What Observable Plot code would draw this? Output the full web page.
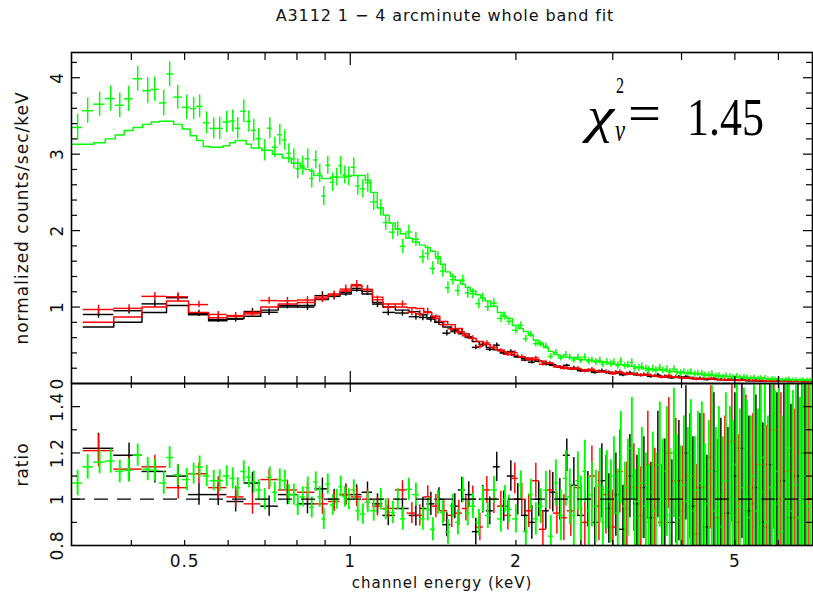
<!DOCTYPE html>
<html>
<head>
<meta charset="utf-8">
<script src="https://cdn.jsdelivr.net/npm/d3@7"></script>
<script src="https://cdn.jsdelivr.net/npm/@observablehq/plot@0.6"></script>
<style>
  html, body { margin: 0; padding: 0; background: #fff; overflow: hidden; }
  #wrap { position: relative; width: 813px; height: 595px; overflow: hidden; font-family: "DejaVu Sans", sans-serif; }
  #wrap > svg { position: absolute; left: 0; top: 0; }
  #wrap > svg.plotsvg text { letter-spacing: 1px; }
  #title { position: absolute; left: 445px; top: 6px; transform: translateX(-50%); white-space: nowrap;
           font-family: "DejaVu Sans", sans-serif; font-size: 16px; letter-spacing: 0.9px; color: #111; }
</style>
</head>
<body>
<div id="wrap"><div id="title">A3112 1 − 4 arcminute whole band fit</div></div>
<script>
// ---------------- data (keV bins, model counts/s/keV, ratio, ratio error) ----------------
// green (pn)
const gE = [0.3195,0.3332,0.3503,0.3669,0.3811,0.3956,0.4108,0.4284,0.4411,0.4581,0.4696,0.4857,0.5043,0.5192,0.5324,0.5483,0.5647,0.5790,0.5963,0.6115,0.6244,0.6404,0.6540,0.6677,0.6818,0.6992,0.7141,0.7292,0.7446,0.7603,0.7732,0.7896,0.8027,0.8197,0.8370,0.8511,0.8655,0.8800,0.8950,0.9102,0.9293,0.9451,0.9610,0.9772,0.9938,1.0148,1.032,
  1.054,1.076,1.103,1.136,1.160,1.195,1.220,1.246,1.278,1.316,1.355,1.383,1.413,1.443,1.473,1.505,1.536,1.569,1.602,1.635,1.670,1.713,1.741,1.778,1.824,1.878,1.910,1.942,2.000,2.042,2.085,2.129,2.174,2.220,2.267,2.315,2.364,2.414,2.465,
  2.506,2.549,2.592,2.625,2.669,2.714,2.749,2.795,2.842,2.878,2.927,2.976,3.014,3.064,3.103,3.156,3.195,3.249,3.291,3.346,3.388,3.446,3.489,3.548,3.593,3.653,3.700,3.762,3.809,3.874,3.923,3.989,4.040,4.108,4.160,4.230,4.283,4.355,4.410,4.485,4.542,4.618,4.677,4.756,4.816,4.898,4.960,5.043,5.107,5.194,5.260,5.348,5.416,5.508,5.577,5.671,5.743,5.840,5.914,6.014,6.090,6.193,6.271,6.376,6.457,6.567,6.648,6.761,6.847];
const gM = [3.13,3.13,3.15,3.20,3.25,3.31,3.35,3.39,3.42,3.43,3.43,3.39,3.33,3.24,3.18,3.10,3.09,3.09,3.11,3.15,3.18,3.18,3.13,3.08,3.08,3.05,3.05,3.00,3.00,2.95,2.95,2.88,2.88,2.82,2.80,2.78,2.72,2.72,2.68,2.68,2.70,2.70,2.70,2.70,2.71,2.72,2.72,
  2.72,2.66,2.50,2.30,2.20,2.10,2.02,1.96,1.90,1.85,1.81,1.78,1.73,1.66,1.56,1.46,1.40,1.35,1.30,1.26,1.21,1.16,1.12,1.08,1.01,0.93,0.88,0.85,0.76,0.72,0.68,0.63,0.57,0.53,0.47,0.42,0.38,0.36,0.345,
  0.34,0.33,0.32,0.315,0.31,0.305,0.30,0.29,0.285,0.28,0.27,0.262,0.256,0.25,0.245,0.238,0.232,0.224,0.217,0.21,0.205,0.198,0.193,0.187,0.182,0.177,0.172,0.167,0.162,0.157,0.152,0.147,0.143,0.138,0.134,0.13,0.126,0.122,0.118,0.113,0.109,0.105,0.101,0.097,0.094,0.09,0.087,0.085,0.082,0.079,0.077,0.074,0.071,0.069,0.067,0.064,0.062,0.06,0.058,0.056,0.054,0.052,0.05,0.049,0.048,0.047,0.046,0.045,0.044];
const gR = [1.07,1.14,1.16,1.165,1.12,1.125,1.19,1.13,1.125,1.07,1.18,1.105,1.085,1.11,1.14,1.10,1.08,1.08,1.10,1.09,1.05,1.12,1.095,1.075,1.04,1.00,1.095,1.03,1.085,1.08,1.02,1.02,0.975,1.01,1.05,0.965,1.075,1.01,0.915,1.065,0.975,1.0,1.055,1.01,1.0,1.04,0.95,
  0.936,0.987,0.95,1.0,0.957,0.943,1.0,0.915,1.043,1.02,0.915,0.957,0.87,0.987,0.943,0.858,0.97,0.90,1.04,0.94,0.97,0.90,1.0,0.93,1.04,0.915,1.0,0.957,0.915,1.06,0.86,1.02,0.915,0.97,1.04,0.84,1.07,0.93,1.09,
  1.01,0.93,1.08,0.96,1.12,0.95,1.02,0.97,1.06,0.90,1.04,0.99,1.10,0.94,1.18,0.97,1.05,1.22,0.92,0.99,1.07,0.97,0.90,1.03,0.95,1.15,1.0,1.12,0.93,1.20,0.98,0.92,1.06,0.99,1.10,0.95,1.04,1.07,0.90,0.98,1.12,0.95,1.02,0.88,1.08,1.0,0.93,1.15,0.97,1.05,1.01,0.92,1.10,0.95,1.03,1.18,0.90,1.05,0.98,1.12,0.86,1.0,1.22,0.95,1.06,0.92,1.10,1.0,0.97];
const gRe = [0.055,0.053,0.05,0.052,0.049,0.05,0.048,0.05,0.047,0.049,0.047,0.046,0.048,0.045,0.047,0.046,0.044,0.047,0.045,0.046,0.044,0.046,0.045,0.047,0.044,0.046,0.045,0.044,0.046,0.045,0.043,0.046,0.045,0.044,0.046,0.045,0.043,0.045,0.046,0.044,0.045,0.043,0.045,0.044,0.046,0.044,0.045,
  0.044,0.046,0.045,0.047,0.046,0.048,0.047,0.049,0.048,0.05,0.049,0.051,0.05,0.052,0.051,0.053,0.052,0.054,0.053,0.055,0.054,0.056,0.055,0.057,0.058,0.057,0.059,0.06,0.061,0.062,0.065,0.066,0.07,0.075,0.08,0.09,0.10,0.11,0.12,
  0.12,0.13,0.125,0.14,0.135,0.15,0.14,0.155,0.16,0.155,0.17,0.18,0.17,0.19,0.2,0.19,0.21,0.22,0.21,0.23,0.24,0.23,0.25,0.26,0.25,0.27,0.26,0.28,0.29,0.28,0.3,0.31,0.3,0.32,0.33,0.32,0.34,0.35,0.34,0.36,0.37,0.36,0.38,0.39,0.38,0.4,0.41,0.4,0.42,0.43,0.42,0.44,0.45,0.44,0.46,0.47,0.46,0.48,0.49,0.48,0.5,0.51,0.5,0.52,0.53,0.52,0.54,0.55,0.56];

// red (MOS)
const rE = [0.3487,0.3962,0.4414,0.4866,0.5309,0.5754,0.6190,0.6641,0.7121,0.7688,0.8360,0.8900,0.9349,0.9813,1.0272,1.0747,1.1206,1.1724,1.2440,
  1.294,1.338,1.383,1.431,1.479,1.529,1.575,1.622,1.670,1.720,1.771,1.824,1.878,1.934,1.991,2.050,2.111,2.174,2.239,2.305,2.374,2.445,
  2.517,2.592,2.669,2.749,2.831,2.915,3.001,3.090,3.182,3.277,3.374,3.474,3.577,3.684,3.793,3.906,4.022,4.142,4.266,4.392,4.523,4.657,4.796,4.938,5.086,5.237,5.393,5.553,5.719,5.888,6.064,6.244,6.430,6.622,6.818];
const rM = [0.80,0.87,1.00,1.08,0.93,0.86,0.88,0.93,1.00,1.04,1.06,1.13,1.17,1.21,1.28,1.23,1.13,1.04,1.00,
  0.99,0.98,0.93,0.88,0.81,0.77,0.72,0.65,0.59,0.55,0.51,0.47,0.44,0.41,0.37,0.35,0.33,0.31,0.29,0.26,0.23,0.215,
  0.20,0.19,0.18,0.17,0.16,0.152,0.144,0.137,0.13,0.122,0.114,0.106,0.099,0.092,0.086,0.08,0.075,0.07,0.066,0.062,0.058,0.054,0.05,0.047,0.044,0.041,0.038,0.036,0.034,0.032,0.03,0.029,0.028,0.027,0.026];
const rR = [1.21,1.13,1.14,1.05,1.11,1.05,1.01,0.98,1.085,1.04,1.03,0.98,0.99,1.02,1.01,1.0,0.97,0.96,1.04,
  0.94,0.93,1.01,0.97,0.95,0.93,0.94,0.96,1.0,0.88,1.04,1.0,0.97,0.93,1.09,1.0,0.95,1.08,0.87,1.04,0.94,0.92,
  0.95,1.05,0.9,1.1,0.97,1.02,0.88,1.12,0.96,1.05,0.93,1.15,1.0,0.9,1.2,1.08,0.95,1.1,0.85,1.05,1.18,0.92,1.0,1.25,0.9,1.05,0.98,1.15,0.88,1.3,1.0,1.12,0.92,1.2,1.0];
const rRe = [0.07,0.055,0.05,0.05,0.046,0.047,0.046,0.045,0.044,0.043,0.042,0.045,0.043,0.046,0.042,0.044,0.043,0.042,0.04,
  0.045,0.046,0.048,0.05,0.05,0.052,0.055,0.054,0.057,0.06,0.058,0.062,0.064,0.063,0.067,0.07,0.072,0.075,0.08,0.085,0.09,0.1,
  0.11,0.12,0.14,0.13,0.15,0.17,0.16,0.18,0.2,0.19,0.21,0.23,0.22,0.25,0.24,0.27,0.28,0.27,0.3,0.32,0.31,0.34,0.36,0.35,0.38,0.4,0.39,0.42,0.44,0.43,0.46,0.48,0.47,0.5,0.52];

// black (MOS)
const bE = [0.3487,0.3962,0.4414,0.4866,0.5309,0.5754,0.6190,0.6641,0.7121,0.7688,0.8360,0.8900,0.9349,0.9813,1.0272,1.0747,1.1206,1.1724,1.2440,
  1.316,1.355,1.401,1.449,1.498,1.549,1.595,1.642,1.691,1.741,1.793,1.846,1.901,1.958,2.016,2.077,2.138,2.201,2.267,2.334,2.404,2.475,
  2.549,2.625,2.703,2.783,2.866,2.951,3.039,3.130,3.223,3.319,3.417,3.518,3.623,3.730,3.841,3.956,4.074,4.195,4.320,4.448,4.580,4.716,4.857,5.001,5.150,5.303,5.461,5.623,5.790,5.963,6.140,6.323,6.511,6.705];
const bM = [0.74,0.80,0.93,1.02,0.90,0.82,0.85,0.88,0.96,1.00,1.02,1.10,1.14,1.17,1.22,1.17,1.06,1.00,0.96,
  0.94,0.90,0.86,0.80,0.74,0.70,0.65,0.60,0.55,0.51,0.47,0.44,0.41,0.38,0.35,0.33,0.31,0.29,0.265,0.24,0.215,0.2,
  0.19,0.18,0.17,0.162,0.154,0.146,0.138,0.131,0.124,0.117,0.109,0.102,0.095,0.089,0.083,0.077,0.072,0.067,0.063,0.059,0.055,0.051,0.048,0.045,0.042,0.039,0.037,0.035,0.033,0.031,0.03,0.029,0.028,0.027];
const bR = [1.22,1.19,1.12,1.10,1.02,1.02,0.99,1.07,0.97,1.02,0.98,1.045,1.0,1.02,1.02,1.03,0.98,0.93,0.96,
  0.93,0.96,0.98,1.0,0.89,0.97,1.04,1.02,0.86,1.0,0.95,1.14,0.97,1.1,1.0,0.93,0.9,1.0,0.95,1.03,1.0,1.19,
  1.06,0.93,1.0,0.9,1.08,0.96,1.02,0.87,1.1,0.98,1.05,0.92,1.15,1.0,0.9,1.08,1.2,0.97,1.05,0.88,1.12,1.0,0.94,1.1,1.22,0.95,1.05,0.9,1.15,1.0,1.08,0.92,1.1,1.0];
const bRe = [0.065,0.053,0.05,0.048,0.046,0.047,0.045,0.046,0.044,0.044,0.043,0.046,0.043,0.045,0.042,0.044,0.043,0.044,0.041,
  0.046,0.048,0.05,0.05,0.052,0.054,0.055,0.056,0.058,0.06,0.06,0.063,0.065,0.066,0.068,0.07,0.073,0.076,0.08,0.085,0.09,0.07,
  0.12,0.13,0.12,0.15,0.16,0.15,0.18,0.19,0.18,0.21,0.22,0.24,0.23,0.26,0.27,0.26,0.29,0.3,0.32,0.31,0.34,0.35,0.37,0.36,0.39,0.41,0.4,0.43,0.44,0.46,0.47,0.49,0.5,0.52];

// axes
const xDomain = [0.3114, 6.92];
const yTopDomain = [0, 4.33];
const yBotDomain = [0.8, 1.5];
const xMajor = [1];
const xMinor = [0.4, 0.5, 0.6, 0.7, 0.8, 0.9, 2, 3, 4, 5, 6];
const xLabels = [0.5, 1, 2, 5];
const yTopMajor = [1, 2, 3, 4];
const yTopMinor = [0.2, 0.4, 0.6, 0.8, 1.2, 1.4, 1.6, 1.8, 2.2, 2.4, 2.6, 2.8, 3.2, 3.4, 3.6, 3.8, 4.2];
const yTopLabels = ["0", "1", "2", "3", "4"];
const yBotMajor = [1, 1.2, 1.4];
const yBotMinor = [0.9, 1.1, 1.3];
const yBotLabels = ["0.8", "1", "1.2", "1.4"];

// ---------------- build tables ----------------
function bins(E, M, R, RE) {
  const n = E.length;
  const edges = [];
  for (let i = 0; i <= n; i++) {
    if (i === 0) edges.push(E[0] * E[0] / Math.sqrt(E[0] * E[1]));
    else if (i === n) edges.push(E[n - 1] * E[n - 1] / Math.sqrt(E[n - 2] * E[n - 1]));
    else edges.push(Math.sqrt(E[i - 1] * E[i]));
  }
  return E.map((e, i) => ({e, lo: edges[i], hi: edges[i + 1], m: M[i], r: R[i], re: RE[i], y: R[i] * M[i], ye: RE[i] * M[i]}));
}
const sets = [
  [bins(bE, bM, bR, bRe), "#000000"],
  [bins(rE, rM, rR, rRe), "#ff0000"],
  [bins(gE, gM, gR, gRe), "#00ff00"]
];
const stepPts = b => b.flatMap(d => [{x: d.lo, y: d.m}, {x: d.hi, y: d.m}]);

const W = 813, H = 595;
const ML = 71, MR = 1;
const FW = W - ML - MR;
const TOP_T = 52, TOP_B = 383, BOT_B = 545;
const topFH = TOP_B - TOP_T, botFH = BOT_B - TOP_B;
const font = "DejaVu Sans, sans-serif";
const SW = 1.45;

function xTicks(FH, minorLen, majorLen, side) {
  const key = side === "top" ? "insetBottom" : "insetTop";
  return [
    Plot.tickX(xMinor, {x: d => d, [key]: FH - minorLen, stroke: "#000", strokeWidth: 1.2}),
    Plot.tickX(xMajor, {x: d => d, [key]: FH - majorLen, stroke: "#000", strokeWidth: 1.2})
  ];
}
function yTicks(minor, major, minorLen, majorLen) {
  const out = [];
  for (const key of ["insetRight", "insetLeft"]) {
    out.push(Plot.tickY(minor, {y: d => d, [key]: FW - minorLen, stroke: "#000", strokeWidth: 1.2}));
    out.push(Plot.tickY(major, {y: d => d, [key]: FW - majorLen, stroke: "#000", strokeWidth: 1.2}));
  }
  return out;
}

// ---------------- top panel ----------------
const topMarks = [];
for (const [b, c] of sets) {
  topMarks.push(Plot.line(stepPts(b), {x: "x", y: "y", stroke: c, strokeWidth: SW, clip: true}));
  topMarks.push(Plot.ruleY(b, {x1: "lo", x2: "hi", y: "y", stroke: c, strokeWidth: SW, clip: true}));
  topMarks.push(Plot.ruleX(b, {x: "e", y1: d => d.y - d.ye, y2: d => d.y + d.ye, stroke: c, strokeWidth: SW, clip: true}));
}
const topPlot = Plot.plot({
  width: W, height: H,
  marginTop: TOP_T, marginBottom: H - TOP_B, marginLeft: ML, marginRight: MR,
  x: {type: "log", domain: xDomain, axis: null},
  y: {domain: yTopDomain, axis: null},
  style: {background: "transparent", overflow: "visible", fontFamily: font},
  marks: [
    ...topMarks,
    ...xTicks(topFH, 8, 13, "top"),
    ...xTicks(topFH, 7, 12, "bottom"),
    ...yTicks(yTopMinor, yTopMajor, 6, 9),
    Plot.frame({stroke: "#000", strokeWidth: 1.6}),
    Plot.text(yTopLabels, {y: d => +d, text: d => d, frameAnchor: "left", textAnchor: "middle", lineAnchor: "middle", dx: -14, rotate: -90, fontSize: 17, fill: "#111"}),
    Plot.text(["normalized counts/sec/keV"], {text: d => d, frameAnchor: "left", textAnchor: "middle", lineAnchor: "middle", dx: -49, rotate: -90, fontSize: 17, fill: "#111"})
  ]
});

// ---------------- ratio panel ----------------
const botMarks = [];
for (const [b, c] of sets) {
  botMarks.push(Plot.ruleY(b, {x1: "lo", x2: "hi", y: "r", stroke: c, strokeWidth: SW, clip: true}));
  botMarks.push(Plot.ruleX(b, {x: "e", y1: d => d.r - d.re, y2: d => d.r + d.re, stroke: c, strokeWidth: c === "#00ff00" ? 1.9 : SW, clip: true}));
}
const botPlot = Plot.plot({
  width: W, height: H,
  marginTop: TOP_B, marginBottom: H - BOT_B, marginLeft: ML, marginRight: MR,
  x: {type: "log", domain: xDomain, axis: null},
  y: {domain: yBotDomain, axis: null},
  style: {background: "transparent", overflow: "visible", fontFamily: font},
  marks: [
    ...botMarks,
    Plot.ruleY([1], {stroke: "#000", strokeWidth: 1.2, strokeDasharray: "14,9"}),
    ...xTicks(botFH, 5, 9, "top"),
    ...xTicks(botFH, 5, 9, "bottom"),
    ...yTicks(yBotMinor, yBotMajor, 6, 9),
    Plot.frame({stroke: "#000", strokeWidth: 1.6}),
    Plot.text(yBotLabels, {y: d => +d, text: d => d, frameAnchor: "left", textAnchor: "middle", lineAnchor: "middle", dx: -14, rotate: -90, fontSize: 17, fill: "#111"}),
    Plot.text(["ratio"], {text: d => d, frameAnchor: "left", textAnchor: "middle", lineAnchor: "middle", dx: -49, rotate: -90, fontSize: 17, fill: "#111"}),
    Plot.text(xLabels, {x: d => d, text: d => String(d), frameAnchor: "bottom", lineAnchor: "middle", dy: 16, fontSize: 17, fill: "#111"}),
    Plot.text(["channel energy (keV)"], {text: d => d, frameAnchor: "bottom", lineAnchor: "middle", dy: 38, fontSize: 15, fill: "#111"})
  ]
});

topPlot.classList.add("plotsvg");
botPlot.classList.add("plotsvg");
const wrap = document.getElementById("wrap");
wrap.appendChild(topPlot);
wrap.appendChild(botPlot);

// chi-square annotation
const NS = "http://www.w3.org/2000/svg";
const ann = document.createElementNS(NS, "svg");
ann.setAttribute("width", W); ann.setAttribute("height", H);
ann.style.fontFamily = "'Liberation Serif', 'Times New Roman', serif";
ann.style.letterSpacing = "0px";
const parts = [
  {t: "χ", x: 587, y: 132, s: 50, it: true, len: 27},
  {t: "2", x: 616, y: 93, s: 24, len: 8},
  {t: "ν", x: 615, y: 141, s: 32, it: true, len: 10},
  {t: "=", x: 628, y: 131, s: 52, len: 33},
  {t: "1.45", x: 687, y: 135, s: 53, len: 77}
];
for (const p of parts) {
  const t = document.createElementNS(NS, "text");
  t.setAttribute("x", p.x); t.setAttribute("y", p.y);
  t.setAttribute("font-size", p.s);
  t.setAttribute("textLength", p.len);
  t.setAttribute("lengthAdjust", "spacingAndGlyphs");
  if (p.it) t.setAttribute("font-style", "italic");
  t.textContent = p.t;
  ann.appendChild(t);
}
wrap.appendChild(ann);
</script>
</body>
</html>
